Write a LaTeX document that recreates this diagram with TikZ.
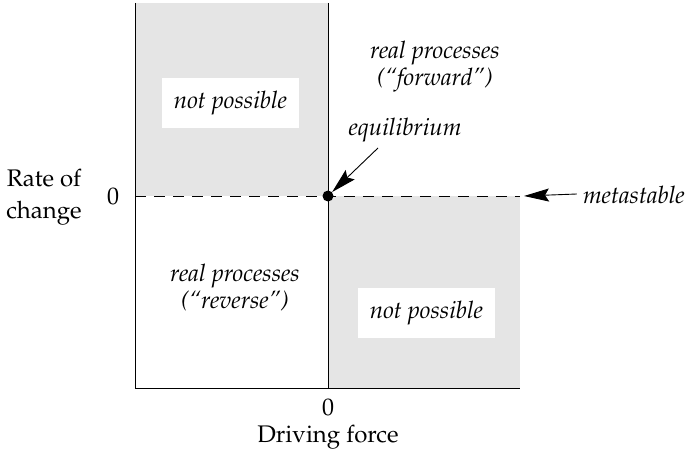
\documentclass[tikz,border=0pt]{standalone}
\usepackage[T1]{fontenc}
\usepackage{mathpazo}
\usetikzlibrary{arrows.meta}
\definecolor{regiongray}{HTML}{E5E5E5}
\begin{document}
\begin{tikzpicture}[x=1pt,y=-1pt,
  lab/.style={font=\fontsize{24}{27}\selectfont\itshape, align=center, inner sep=0pt},
  axlab/.style={font=\fontsize{24}{32}\selectfont, align=center, inner sep=0pt},
  wbox/.style={fill=white, minimum width=137pt, minimum height=50pt, font=\fontsize{24}{27}\selectfont\itshape, inner sep=0pt},
  axis/.style={line width=0.9pt},
  pointer/.style={line width=0.9pt, -{Stealth[length=25pt,width=13pt,inset=4pt]}}]
\useasboundingbox (0,0) rectangle (688,454);
% shaded regions
\fill[regiongray] (135,3) rectangle (328,196);
\fill[regiongray] (328,196) rectangle (520,388);
% coordinates
\coordinate (tl) at (135,3);
\coordinate (bl) at (135,388);
\coordinate (br) at (520,388);
\coordinate (ct) at (328,3);
\coordinate (cb) at (328,388);
\coordinate (ml) at (135,196);
\coordinate (mend) at (520,196);
\coordinate (mr) at (524,196);
\coordinate (eqtail) at (378,148);
% axes and lines
\draw[axis] (tl) -- (bl) -- (br);
\draw[line width=0.7pt] (ct) -- (cb);
\draw[line width=0.9pt, dash pattern=on 11pt off 8pt] (ml) -- (mend);
\node[circle, fill=black, inner sep=0pt, minimum size=11pt] (eq) at (328,196) {};
% boxes
\node[wbox] (np1) at (230.5,103) {not possible};
\node[wbox] (np2) at (426.5,313) {not possible};
% labels
\node[lab] (fwd) at (435,67) {real processes\\(``forward'')};
\node[lab] (rev) at (235,288) {real processes\\(``reverse'')};
\node[lab] (eql) at (405,130) {equilibrium};
\node[lab, anchor=east] (meta) at (685,195) {metastable};
\node[axlab] (z1) at (113,196) {0};
\node[axlab] (z2) at (328,407) {0};
\node[axlab] (df) at (328,437) {Driving force};
\node[axlab] (roc) at (44,197) {Rate of\\change};
% pointers
\draw[pointer] (eqtail) -- (eq);
\coordinate (mtail) at ([xshift=-6pt,yshift=1pt]meta.west);
\draw[pointer] (mtail) -- (mr);
\end{tikzpicture}
\end{document}
